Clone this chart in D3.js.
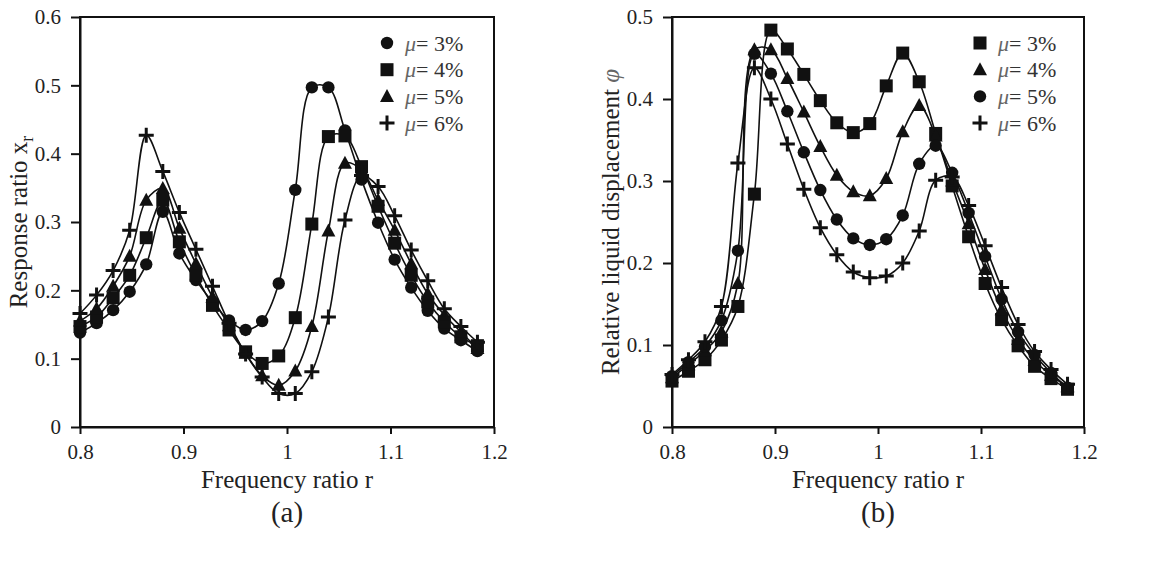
<!DOCTYPE html>
<html>
<head>
<meta charset="utf-8">
<script src="https://cdn.jsdelivr.net/npm/d3@7"></script>
<style>
  body { margin: 0; background: #fff; }
  svg { display: block; }
  .axis path, .axis line { stroke: #111; stroke-width: 2px; }
</style>
</head>
<body>
<svg id="chart" width="1152" height="583"></svg>
<script>
const SERIF = '"Liberation Serif", "DejaVu Serif", serif';

// frequency ratio r, same for every series
const rValues = [0.800, 0.816, 0.832, 0.848, 0.864, 0.880, 0.896, 0.912, 0.928, 0.944, 0.960, 0.976, 0.992,
  1.008, 1.024, 1.040, 1.056, 1.072, 1.088, 1.104, 1.120, 1.136, 1.152, 1.168, 1.184];

// (a) response ratio x_r
const respMu3 = [0.138, 0.152, 0.171, 0.198, 0.238, 0.315, 0.254, 0.215, 0.183, 0.156, 0.142, 0.155, 0.210,
  0.347, 0.497, 0.497, 0.434, 0.362, 0.299, 0.245, 0.204, 0.170, 0.144, 0.127, 0.111];
const respMu4 = [0.147, 0.161, 0.189, 0.222, 0.277, 0.332, 0.271, 0.222, 0.178, 0.142, 0.110, 0.093, 0.104,
  0.160, 0.297, 0.425, 0.426, 0.381, 0.323, 0.269, 0.222, 0.183, 0.154, 0.132, 0.119];
const respMu5 = [0.155, 0.173, 0.206, 0.250, 0.332, 0.349, 0.291, 0.239, 0.190, 0.148, 0.108, 0.075, 0.061,
  0.082, 0.147, 0.287, 0.386, 0.376, 0.332, 0.288, 0.239, 0.195, 0.164, 0.139, 0.115];
const respMu6 = [0.166, 0.193, 0.229, 0.288, 0.427, 0.374, 0.314, 0.260, 0.206, 0.152, 0.107, 0.073, 0.049,
  0.049, 0.081, 0.161, 0.303, 0.368, 0.352, 0.309, 0.259, 0.214, 0.173, 0.147, 0.124];

// (b) relative liquid displacement
const liqMu3 = [0.056, 0.068, 0.082, 0.106, 0.147, 0.284, 0.484, 0.461, 0.430, 0.398, 0.371, 0.359, 0.370,
  0.416, 0.456, 0.421, 0.358, 0.294, 0.232, 0.175, 0.131, 0.099, 0.074, 0.059, 0.046];
const liqMu4 = [0.060, 0.076, 0.093, 0.116, 0.175, 0.460, 0.460, 0.425, 0.384, 0.342, 0.307, 0.287, 0.282,
  0.303, 0.360, 0.392, 0.355, 0.300, 0.248, 0.192, 0.143, 0.107, 0.081, 0.063, 0.049];
const liqMu5 = [0.062, 0.079, 0.098, 0.130, 0.215, 0.455, 0.431, 0.385, 0.335, 0.289, 0.253, 0.230, 0.222,
  0.229, 0.258, 0.321, 0.343, 0.310, 0.261, 0.208, 0.156, 0.116, 0.088, 0.066, 0.048];
const liqMu6 = [0.064, 0.082, 0.104, 0.147, 0.322, 0.438, 0.400, 0.345, 0.290, 0.243, 0.210, 0.189, 0.182,
  0.184, 0.200, 0.239, 0.301, 0.305, 0.270, 0.221, 0.170, 0.125, 0.092, 0.070, 0.052];

const muLabels = ['3%', '4%', '5%', '6%'];
const xTicks = [0.8, 0.9, 1, 1.1, 1.2];
const respTicks = [0, 0.1, 0.2, 0.3, 0.4, 0.5, 0.6];
const liqTicks = [0, 0.1, 0.2, 0.3, 0.4, 0.5];

const svgRoot = d3.select('#chart');
svgRoot.append('rect').attr('width', 1152).attr('height', 583).attr('fill', '#fff');

// marker painters
const MARKERS = {
  circle: (g) => g.append('circle').attr('r', 6.2).attr('fill', '#111'),
  square: (g) => g.append('rect').attr('x', -6.5).attr('y', -6.5).attr('width', 13).attr('height', 13).attr('fill', '#111'),
  triangle: (g) => g.append('path').attr('d', 'M0,-7.5L7,5.5L-7,5.5Z').attr('fill', '#111'),
  plus: (g) => g.append('path').attr('d', 'M-7.5,0H7.5M0,-7.5V7.5').attr('stroke', '#111').attr('stroke-width', 3).attr('fill', 'none')
};

class FreqChart {
  constructor(config) {
    this.config = config;
    this.g = svgRoot.append('g').attr('transform', `translate(${config.left},${config.top})`);
    this.w = config.right - config.left;
    this.h = config.bottom - config.top;
    this.xScale = d3.scaleLinear().domain([0.8, 1.2]).range([0, this.w]);
    this.yScale = d3.scaleLinear().domain(config.yDomain).range([this.h, 0]);
    this.drawAxis();
    this.drawSeries();
    this.drawLegend();
    this.drawTitles();
  }

  drawAxis() {
    const xAxis = this.g.append('g')
        .attr('class', 'axis')
        .attr('transform', `translate(0,${this.h})`)
        .call(d3.axisBottom(this.xScale).tickValues(xTicks).tickSize(7).tickSizeOuter(0).tickPadding(10)
          .tickFormat((d) => String(d)));

    const yAxis = this.g.append('g')
        .attr('class', 'axis')
        .call(d3.axisLeft(this.yScale).tickValues(this.config.yTicks).tickSize(9).tickSizeOuter(0).tickPadding(10)
          .tickFormat((d) => String(d)));

    [xAxis, yAxis].forEach((a) => {
      a.attr('font-family', SERIF).attr('font-size', 21);
      a.selectAll('text').attr('fill', '#222');
    });

    this.g.append('rect')
        .attr('width', this.w)
        .attr('height', this.h)
        .attr('fill', 'none')
        .attr('stroke', '#111')
        .attr('stroke-width', 2);
  }

  drawSeries() {
    const line = d3.line()
        .curve(d3.curveCatmullRom.alpha(0.5))
        .x((d) => this.xScale(d.x))
        .y((d) => this.yScale(d.y));

    this.config.series.forEach((s) => {
      const pts = rValues.map((r, i) => ({ x: r, y: s.values[i] }));
      this.g.append('path')
          .datum(pts)
          .attr('fill', 'none')
          .attr('stroke', '#111')
          .attr('stroke-width', 1.6)
          .attr('d', line);
    });

    this.config.series.forEach((s) => {
      const pts = rValues.map((r, i) => ({ x: r, y: s.values[i] }));
      pts.forEach((p) => {
        const m = this.g.append('g').attr('transform', `translate(${this.xScale(p.x)},${this.yScale(p.y)})`);
        MARKERS[s.marker](m);
      });
    });
  }

  drawLegend() {
    const lg = svgRoot.append('g');
    this.config.series.forEach((s, i) => {
      const cy = this.config.legendY + i * 26.7;
      const m = lg.append('g').attr('transform', `translate(${this.config.legendX},${cy})`);
      MARKERS[s.marker](m);
      const t = lg.append('text')
          .attr('font-family', SERIF)
          .attr('font-size', 22)
          .attr('x', this.config.legendX + 18)
          .attr('y', cy + 7.5);
      t.append('tspan').attr('font-style', 'italic').attr('fill', '#666').text('\u03bc');
      t.append('tspan').attr('fill', '#333').text('= ' + s.label);
    });
  }

  drawTitles() {
    const cx = this.w / 2;
    this.g.append('text')
        .attr('font-family', SERIF)
        .attr('font-size', 25)
        .attr('fill', '#222')
        .attr('x', cx)
        .attr('y', this.h + 61)
        .attr('text-anchor', 'middle')
        .text('Frequency ratio r');

    this.g.append('text')
        .attr('font-family', SERIF)
        .attr('font-size', 29)
        .attr('fill', '#222')
        .attr('x', cx)
        .attr('y', this.h + 95)
        .attr('text-anchor', 'middle')
        .text(this.config.caption);

    const yt = this.g.append('text')
        .attr('font-family', SERIF)
        .attr('font-size', 25)
        .attr('fill', '#222')
        .attr('transform', `translate(${this.config.yTitleX},${this.h / 2}) rotate(-90)`)
        .attr('text-anchor', 'middle');
    this.config.yTitle(yt);
  }
}

new FreqChart({
  left: 80, right: 494, top: 17, bottom: 427,
  yDomain: [0, 0.6], yTicks: respTicks,
  series: [
    { values: respMu3, marker: 'circle', label: muLabels[0] },
    { values: respMu4, marker: 'square', label: muLabels[1] },
    { values: respMu5, marker: 'triangle', label: muLabels[2] },
    { values: respMu6, marker: 'plus', label: muLabels[3] }
  ],
  legendX: 387, legendY: 43,
  caption: '(a)',
  yTitleX: -53,
  yTitle: (t) => {
    t.append('tspan').text('Response ratio x');
    t.append('tspan').attr('dy', 6).attr('font-size', 18).text('r');
  }
});

new FreqChart({
  left: 672, right: 1084, top: 17, bottom: 427,
  yDomain: [0, 0.5], yTicks: liqTicks,
  series: [
    { values: liqMu3, marker: 'square', label: muLabels[0] },
    { values: liqMu4, marker: 'triangle', label: muLabels[1] },
    { values: liqMu5, marker: 'circle', label: muLabels[2] },
    { values: liqMu6, marker: 'plus', label: muLabels[3] }
  ],
  legendX: 980, legendY: 43,
  caption: '(b)',
  yTitleX: -53,
  yTitle: (t) => {
    t.append('tspan').text('Relative liquid displacement ');
    t.append('tspan').attr('font-style', 'italic').attr('fill', '#666').text('\u03c6');
  }
});
</script>
</body>
</html>
